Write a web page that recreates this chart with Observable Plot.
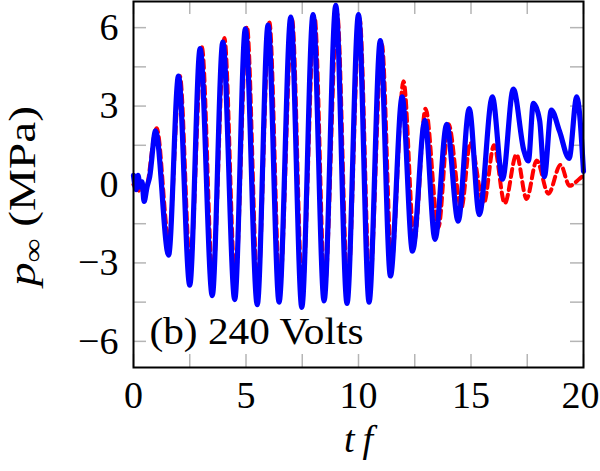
<!DOCTYPE html>
<html>
<head>
<meta charset="utf-8">
<script src="https://cdn.jsdelivr.net/npm/d3@7"></script>
<script src="https://cdn.jsdelivr.net/npm/@observablehq/plot@0.6"></script>
<style>
  html, body { margin: 0; padding: 0; background: #fff; }
  #chart svg { display: block; font-family: 'Liberation Serif', serif; }
</style>
</head>
<body>
<div id="chart"></div>
<script>
// ---- data ----
// measured signal (blue, solid)
const blueT = [0, 0.12, 0.2, 0.3, 0.38, 0.47, 0.6, 0.72, 0.98, 1.56, 2.0, 2.5, 2.96, 3.5, 3.97, 4.5, 4.97, 5.5, 5.98, 6.47, 6.99, 7.48, 7.98, 8.47, 8.99, 9.49, 10.0, 10.47, 10.97, 11.42, 11.94, 12.4, 12.95, 13.4, 13.92, 14.43, 14.92, 15.37, 15.95, 16.4, 16.88, 17.35, 17.55, 17.77, 18.05, 18.26, 18.57, 18.93, 19.36, 19.7, 20.0];
const blueP = [0.35, -0.2, 0.35, -0.1, 0.1, -0.65, -0.1, 0.3, 2.05, -2.7, 4.15, -3.85, 5.2, -4.25, 5.45, -4.4, 5.95, -4.6, 6.1, -4.5, 6.4, -4.7, 6.5, -4.45, 6.85, -4.55, 6.5, -4.5, 5.5, -3.5, 3.35, -2.55, 2.45, -2.1, 2.3, -1.4, 2.9, -1.15, 3.35, 0.2, 3.65, 1.3, 0.9, 3.1, 2.45, 0.3, 2.85, 2.05, 1.0, 3.35, 0.5];
// model prediction (red, dashed)
const redT = [0, 0.5, 1.03, 1.57, 2.06, 2.52, 3.04, 3.52, 4.04, 4.52, 5.04, 5.52, 6.04, 6.5, 7.05, 7.5, 8.05, 8.5, 9.05, 9.52, 10.05, 10.5, 11.04, 11.47, 12.0, 12.48, 12.98, 13.55, 14.0, 14.57, 14.97, 15.57, 16.02, 16.5, 17.02, 17.47, 17.92, 18.44, 18.98, 19.38, 19.8, 20.0];
const redP = [0.0, -0.35, 2.15, -2.1, 4.15, -3.1, 5.25, -3.6, 5.6, -3.7, 6.05, -3.9, 6.2, -3.9, 6.3, -4.0, 6.4, -3.9, 6.55, -3.9, 6.35, -3.8, 5.35, -2.9, 3.95, -2.15, 2.9, -1.65, 2.3, -0.9, 1.6, -0.72, 1.5, -0.72, 1.15, -0.55, 0.92, -0.35, 0.75, -0.05, 0.2, 0.35];

const xTickLabels = [0, 5, 10, 15];
const xLastTickLabel = [20];
const xTicks = [0, 2.5, 5, 7.5, 10, 12.5, 15, 17.5, 20];
const yTickLabels = [-6, -3, 0, 3, 6];
const yTicks = [-6, -4.5, -3, -1.5, 0, 1.5, 3, 4.5, 6];
const annotation = "(b) 240 Volts";
const xLabel = "tf";

// ---- layout ----
const W = 600, H = 471;
const mL = 133, mR = 17, mT = 1, mB = 104;
const plotW = W - mL - mR, plotH = H - mT - mB;
const tickLen = 13;
const FONT = "Liberation Serif";
const FS = 38;

const blue = blueT.map((t, i) => ({t, p: blueP[i]}));
const red = redT.map((t, i) => ({t, p: redP[i]}));
const tickStyle = {stroke: "#b5b5b5", strokeWidth: 1.5};
const xAxisStyle = {tickSize: 0, tickPadding: 14, label: null, fontSize: FS, fontFamily: FONT, tickFormat: d => d};

const chart = Plot.plot({
  width: W, height: H,
  marginLeft: mL, marginRight: mR, marginTop: mT, marginBottom: mB,
  style: `font-family: 'Liberation Serif', serif; font-size: ${FS}px; background: white; color: black;`,
  x: {domain: [0, 20]},
  y: {domain: [-7, 7]},
  marks: [
    Plot.tickX(xTicks, {x: d => d, ...tickStyle, insetTop: plotH - tickLen}),
    Plot.tickX(xTicks, {x: d => d, ...tickStyle, insetBottom: plotH - tickLen}),
    Plot.tickY(yTicks, {y: d => d, ...tickStyle, insetRight: plotW - tickLen}),
    Plot.tickY(yTicks, {y: d => d, ...tickStyle, insetLeft: plotW - tickLen}),
    Plot.line(red, {x: "t", y: "p", stroke: "#ff0000", strokeWidth: 4, strokeDasharray: "8,5", curve: "monotone-x"}),
    Plot.line(blue, {x: "t", y: "p", stroke: "#0000ff", strokeWidth: 5.2, curve: "monotone-x", strokeLinejoin: "round"}),
    Plot.frame({stroke: "black", strokeWidth: 2}),
    Plot.axisX({ticks: xTickLabels, ...xAxisStyle}),
    Plot.axisX({ticks: xLastTickLabel, ...xAxisStyle, dx: -3}),
    Plot.axisY({ticks: yTickLabels, tickSize: 0, tickPadding: 15, label: null, fontSize: FS, fontFamily: FONT}),
    Plot.text([annotation], {frameAnchor: "bottom-left", text: d => d, textAnchor: "start", dx: 16, dy: -24, fontSize: FS, fontFamily: FONT, fill: "black"}),
    Plot.text([xLabel], {frameAnchor: "bottom", text: d => d, dy: 84, fontSize: FS, fontFamily: FONT, fontStyle: "italic", fill: "black"})
  ]
});

document.getElementById("chart").appendChild(chart);

const svg = d3.select(chart);
// widen texts slightly to match the wider TeX glyphs of the reference
svg.selectAll("text").filter(function () { return this.textContent === annotation; })
  .attr("textLength", 214).attr("lengthAdjust", "spacingAndGlyphs");
svg.selectAll("text").filter(function () { return this.textContent === xLabel; })
  .attr("textLength", 29).attr("lengthAdjust", "spacing");

// y-axis label with italic p and subscript infinity
const yl = svg.append("text")
  .attr("transform", "translate(35,196) rotate(-90)")
  .attr("text-anchor", "middle")
  .attr("font-family", FONT)
  .attr("font-size", FS)
  .attr("fill", "black")
  .attr("textLength", 180)
  .attr("lengthAdjust", "spacingAndGlyphs");
yl.append("tspan").attr("font-style", "italic").text("p");
yl.append("tspan").attr("font-size", 27).attr("dy", 7).text("∞");
yl.append("tspan").attr("dy", -7).text(" (MPa)");
</script>
</body>
</html>
